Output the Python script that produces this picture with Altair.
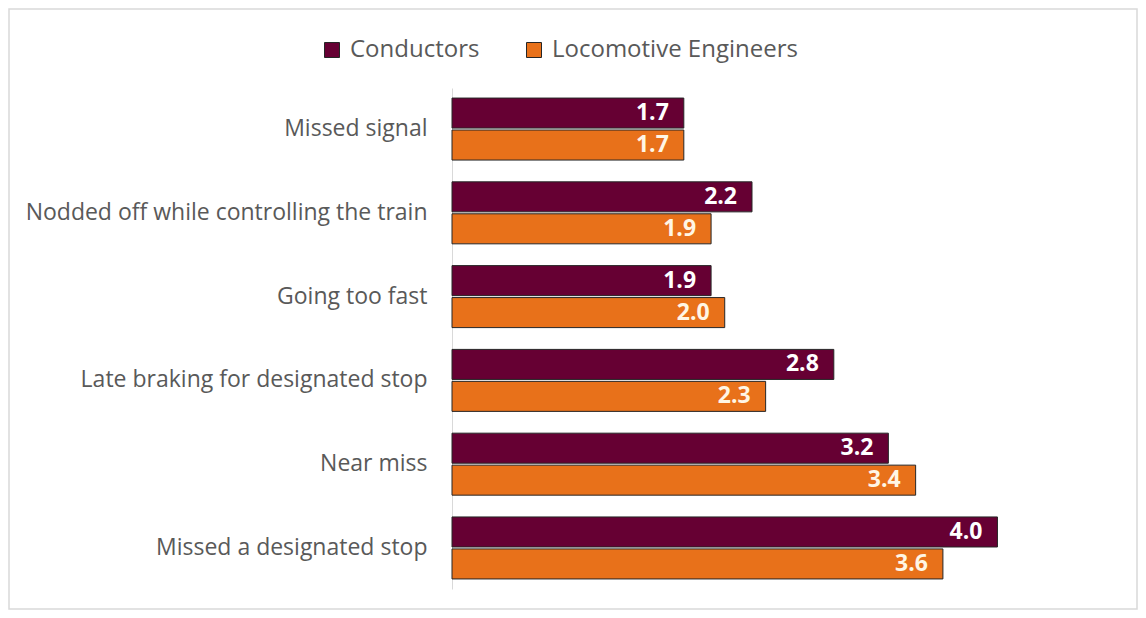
import altair as alt
import pandas as pd

categories = [
    "Missed signal",
    "Nodded off while controlling the train",
    "Going too fast",
    "Late braking for designated stop",
    "Near miss",
    "Missed a designated stop",
]
conductors = [1.7, 2.2, 1.9, 2.8, 3.2, 4.0]
engineers = [1.7, 1.9, 2.0, 2.3, 3.4, 3.6]
series_names = ["Conductors", "Locomotive Engineers"]
colors = ["#660033", "#E8711A"]

rows = []
for c, a, b in zip(categories, conductors, engineers):
    rows.append({"cat": c, "series": series_names[0], "value": a})
    rows.append({"cat": c, "series": series_names[1], "value": b})
df = pd.DataFrame(rows)

FONT = "Open Sans"
W, H = 600, 501
PL, PT = 444, 80
TW, TH = 1130, 602

y = alt.Y(
    "cat:N",
    sort=categories,
    scale=alt.Scale(paddingInner=0.26, paddingOuter=0.12),
    axis=alt.Axis(
        title=None,
        labelFontSize=23,
        labelColor="#595959",
        labelFont=FONT,
        ticks=False,
        labelPadding=25,
        domainColor="#d9d9d9",
        domainWidth=1,
        labelLimit=500,
    ),
)
yoff = alt.YOffset(
    "series:N",
    sort=series_names,
    scale=alt.Scale(paddingInner=0.06, paddingOuter=0),
)
x = alt.X("value:Q", scale=alt.Scale(domain=[0, 4.4]), axis=None)

base = alt.Chart(df).encode(y=y, yOffset=yoff, x=x)

bars = base.mark_bar(stroke="#262626", strokeWidth=1).encode(
    color=alt.Color(
        "series:N",
        sort=series_names,
        scale=alt.Scale(domain=series_names, range=colors),
        legend=alt.Legend(
            title=None,
            orient="none",
            direction="horizontal",
            legendX=-132,
            legendY=-50,
            labelFontSize=24,
            labelFont=FONT,
            labelColor="#595959",
            labelLimit=400,
            symbolType="square",
            symbolSize=225,
            symbolStrokeColor="#262626",
            symbolStrokeWidth=1,
            columnPadding=42,
            labelOffset=6,
        ),
    )
)

labels = base.mark_text(
    align="right", dx=-15, fontSize=23, fontWeight="bold", font=FONT, baseline="middle"
).encode(
    text=alt.Text("value:Q", format=".1f"),
    color=alt.condition(
        alt.datum.series == "Conductors", alt.value("#ffffff"), alt.value("#FFF6E5")
    ),
)

border = alt.Chart(pd.DataFrame({"k": [0]})).mark_rect(
    fillOpacity=0, stroke="#d9d9d9", strokeWidth=1.5
).encode(
    x=alt.value(-PL + 1),
    x2=alt.value(TW - PL - 1),
    y=alt.value(-PT + 1),
    y2=alt.value(TH - PT - 1),
)

chart = (
    alt.layer(border, bars, labels)
    .properties(
        width=W,
        height=H,
        padding={"left": PL, "top": PT, "right": TW - PL - W, "bottom": TH - PT - H},
        autosize=alt.AutoSizeParams(type="none"),
    )
    .configure_view(stroke=None)
)

chart.save("out.html", embed_options={"renderer": "svg", "actions": False})
